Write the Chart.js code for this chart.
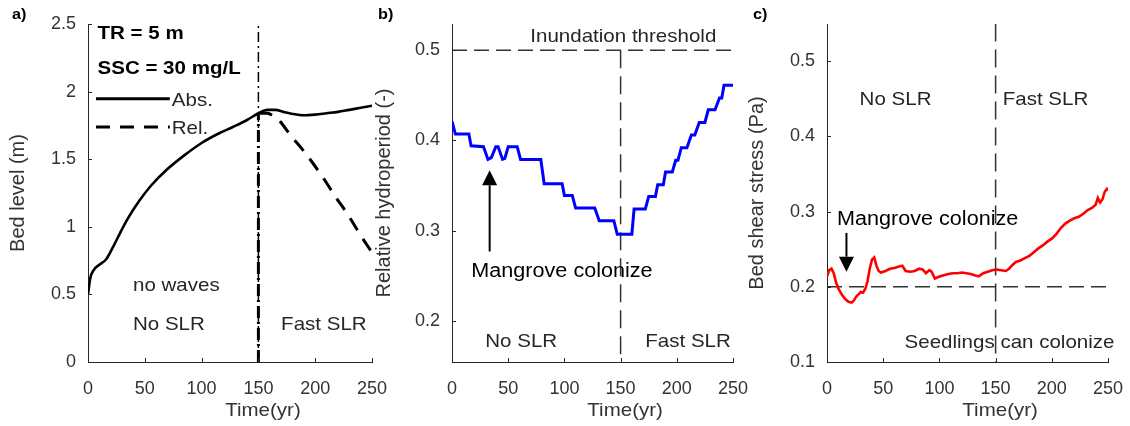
<!DOCTYPE html>
<html>
<head>
<meta charset="utf-8">
<script src="https://cdn.jsdelivr.net/npm/chart.js@4.4.1/dist/chart.umd.min.js"></script>
<style>
  html, body { margin: 0; padding: 0; background: #fff; }
  #wrap { position: relative; width: 1130px; height: 426px; overflow: hidden; }
  canvas { position: absolute; top: 0; }
</style>
</head>
<body>
<div id="wrap">
  <canvas id="bedLevel" width="392" height="426" style="left:0px"></canvas>
  <canvas id="hydroperiod" width="378" height="426" style="left:372px"></canvas>
  <canvas id="shearStress" width="388" height="426" style="left:742px"></canvas>
</div>
<script>
// ---------- axes ----------
const timeTicks = [0, 50, 100, 150, 200, 250];
const timeTickLabels = ["0", "50", "100", "150", "200", "250"];
const bedTicks = [0, 0.5, 1, 1.5, 2, 2.5];
const bedTickLabels = ["0", "0.5", "1", "1.5", "2", "2.5"];
const hydroTicks = [0.2, 0.3, 0.4, 0.5];
const hydroTickLabels = ["0.2", "0.3", "0.4", "0.5"];
const shearTicks = [0.1, 0.2, 0.3, 0.4, 0.5];
const shearTickLabels = ["0.1", "0.2", "0.3", "0.4", "0.5"];

// ---------- a) bed level ----------
const absTime  = [0, 2, 5, 10, 16, 22, 28, 35, 45, 55, 69, 85, 100, 115, 128, 140, 150, 158, 165, 172, 180, 190, 200, 210, 220, 230, 240, 250];
const absLevel = [0.50, 0.62, 0.68, 0.72, 0.76, 0.85, 0.95, 1.06, 1.19, 1.30, 1.42, 1.53, 1.62, 1.69, 1.74, 1.79, 1.84, 1.865, 1.865, 1.85, 1.835, 1.825, 1.83, 1.84, 1.85, 1.865, 1.88, 1.895];
const relTime  = [150, 158, 163, 169, 178, 188, 198, 208, 218, 228, 239, 250];
const relLevel = [1.84, 1.84, 1.82, 1.78, 1.68, 1.58, 1.47, 1.35, 1.22, 1.10, 0.95, 0.81];

// ---------- b) relative hydroperiod ----------
const hydroTime = [0, 3, 15, 17, 28, 32, 35, 39, 41, 45, 47, 50, 58, 61, 79, 82, 98, 100, 107, 110, 127, 131, 144, 147,
                   160, 162, 172, 175, 181, 183, 188, 190, 196, 199, 201, 204, 209, 213, 216, 220, 225, 228, 234, 238, 240, 242, 250];
const hydroValue = [0.421, 0.407, 0.407, 0.394, 0.393, 0.379, 0.381, 0.393, 0.393, 0.379, 0.380, 0.393, 0.393, 0.379, 0.379, 0.352, 0.352, 0.339, 0.339, 0.325, 0.325, 0.311, 0.311, 0.296,
                    0.296, 0.324, 0.324, 0.338, 0.338, 0.351, 0.351, 0.365, 0.365, 0.378, 0.378, 0.392, 0.392, 0.406, 0.406, 0.420, 0.420, 0.434, 0.434, 0.447, 0.447, 0.461, 0.461];

// ---------- c) bed shear stress ----------
const shearTime = [0, 2, 4, 6, 8, 10, 13, 16, 19, 22, 24, 26, 28, 30, 32, 34, 36, 38, 40, 42, 44, 46, 48, 52, 56, 60, 64, 67, 70, 74, 78, 82, 85, 88, 91, 93, 96, 99,
                   103, 108, 112, 116, 120, 124, 128, 132, 135, 139, 143, 147, 151, 155, 159, 162, 165, 168, 172, 176, 180, 184, 188, 192, 196, 200,
                   204, 208, 212, 216, 220, 224, 228, 232, 236, 239, 241, 243, 245, 247, 249, 250];
const shearValue = [0.214, 0.222, 0.224, 0.218, 0.206, 0.198, 0.190, 0.184, 0.180, 0.179, 0.182, 0.187, 0.190, 0.193, 0.192, 0.197, 0.207, 0.224, 0.236, 0.239, 0.228, 0.221, 0.219, 0.221, 0.224, 0.225, 0.227, 0.228, 0.221, 0.220, 0.221, 0.224, 0.223, 0.218, 0.222, 0.220, 0.211, 0.213,
                    0.215, 0.217, 0.218, 0.218, 0.219, 0.218, 0.217, 0.215, 0.214, 0.218, 0.220, 0.222, 0.223, 0.222, 0.221, 0.224, 0.229, 0.233, 0.235, 0.238, 0.241, 0.246, 0.251, 0.255, 0.260, 0.264,
                    0.270, 0.278, 0.284, 0.288, 0.291, 0.293, 0.297, 0.302, 0.305, 0.309, 0.318, 0.312, 0.316, 0.326, 0.330, 0.328];

const FONT = '"Liberation Sans", Arial, sans-serif';
const AXIS = '#262626';
const REF = '#333333';
const STRETCH = 1.08;   // annotation text is set slightly wide

function pts(xs, ys) { return xs.map((x, i) => ({ x, y: ys[i] })); }

function wideText(ctx, text, px, py, align) {
  ctx.save();
  ctx.translate(px, py);
  ctx.scale(STRETCH, 1);
  ctx.textAlign = align || 'left';
  ctx.fillText(text, 0, 0);
  ctx.restore();
}

// text, arrows, legend keys and inward tick marks, all placed through the scales
const notes = {
  id: 'notes',
  afterDatasetsDraw(chart, args, opts) {
    const { ctx, chartArea: ca, scales: { x, y } } = chart;
    ctx.save();

    ctx.strokeStyle = AXIS;
    ctx.lineWidth = 1;
    x.ticks.forEach(t => {
      const px = Math.round(x.getPixelForValue(t.value)) + 0.5;
      ctx.beginPath(); ctx.moveTo(px, ca.bottom); ctx.lineTo(px, ca.bottom - 4); ctx.stroke();
    });
    y.ticks.forEach(t => {
      const py = Math.round(y.getPixelForValue(t.value)) + 0.5;
      ctx.beginPath(); ctx.moveTo(ca.left, py); ctx.lineTo(ca.left + 4, py); ctx.stroke();
    });

    ctx.textBaseline = 'middle';
    ctx.fillStyle = '#000';
    ctx.font = 'bold 15px ' + FONT;
    wideText(ctx, opts.letter, opts.letterX, 15);

    // x axis title
    ctx.fillStyle = '#333';
    ctx.font = '19px ' + FONT;
    wideText(ctx, 'Time(yr)', x.getPixelForValue(154), ca.bottom + 49, 'center');

    (opts.keys || []).forEach(k => {
      const yy = y.getPixelForValue(k.y);
      ctx.strokeStyle = '#000';
      ctx.lineWidth = 3;
      ctx.setLineDash(k.dash || []);
      ctx.beginPath();
      ctx.moveTo(x.getPixelForValue(k.x0), yy);
      ctx.lineTo(x.getPixelForValue(k.x1), yy);
      ctx.stroke();
      ctx.setLineDash([]);
      ctx.fillStyle = '#262626';
      ctx.font = '19px ' + FONT;
      wideText(ctx, k.text, x.getPixelForValue(k.x1) + 2, yy + 2);
    });

    (opts.texts || []).forEach(t => {
      ctx.font = (t.bold ? 'bold ' : '') + (t.size || 19) + 'px ' + FONT;
      ctx.fillStyle = t.color || '#262626';
      wideText(ctx, t.text, x.getPixelForValue(t.x), y.getPixelForValue(t.y));
    });

    (opts.arrows || []).forEach(a => {
      const ax = x.getPixelForValue(a.x);
      const y0 = y.getPixelForValue(a.from);
      const y1 = y.getPixelForValue(a.to);
      const dir = y1 < y0 ? -1 : 1;
      const head = 15;
      ctx.strokeStyle = '#000';
      ctx.fillStyle = '#000';
      ctx.lineWidth = 2;
      ctx.beginPath(); ctx.moveTo(ax, y0); ctx.lineTo(ax, y1 - dir * head); ctx.stroke();
      ctx.beginPath();
      ctx.moveTo(ax, y1);
      ctx.lineTo(ax - 7.5, y1 - dir * head);
      ctx.lineTo(ax + 7.5, y1 - dir * head);
      ctx.closePath();
      ctx.fill();
    });

    ctx.restore();
  }
};

function xScale() {
  return {
    type: 'linear', min: 0, max: 250,
    afterBuildTicks: s => { s.ticks = timeTicks.map(v => ({ value: v })); },
    afterFit: s => { s.height = 64; s.paddingLeft = 0; s.paddingRight = 0; },
    grid: { display: false, drawTicks: false },
    border: { display: true, color: AXIS, width: 1 },
    ticks: { padding: 16, color: '#333', font: { size: 18, family: FONT }, callback: (v, i) => timeTickLabels[i] }
  };
}

function yScale(min, max, ticks, labels, width, title, titlePad) {
  return {
    type: 'linear', min, max,
    afterBuildTicks: s => { s.ticks = ticks.map(v => ({ value: v })); },
    afterFit: s => { s.width = width; s.paddingTop = 0; s.paddingBottom = 0; },
    grid: { display: false, drawTicks: false },
    border: { display: true, color: AXIS, width: 1 },
    ticks: { padding: 12, color: '#333', font: { size: 18, family: FONT }, callback: (v, i) => labels[i] },
    title: { display: true, text: title, color: '#333', font: { size: 20, family: FONT }, padding: { top: titlePad, bottom: 0 } }
  };
}

function baseOptions(x, y, rightPad, noteOpts) {
  return {
    responsive: false,
    animation: false,
    devicePixelRatio: 1,
    layout: { padding: { left: 0, right: rightPad, top: 24, bottom: 0 } },
    plugins: { legend: { display: false }, tooltip: { enabled: false }, notes: noteOpts },
    scales: { x, y },
    elements: { point: { radius: 0 } }
  };
}

// a) bed level
new Chart(document.getElementById('bedLevel'), {
  type: 'line',
  plugins: [notes],
  data: {
    datasets: [
      { data: pts([150, 150], [0, 2.5]), borderColor: '#000', borderWidth: 1.5, borderDash: [10, 4, 2, 4] },
      { data: pts([150, 150], [0, 1.84]), borderColor: '#000', borderWidth: 3, borderDash: [12, 4, 2, 4] },
      { data: pts(relTime, relLevel), borderColor: '#000', borderWidth: 3, borderDash: [14, 10], cubicInterpolationMode: 'monotone' },
      { data: pts(absTime, absLevel), borderColor: '#000', borderWidth: 2.6, cubicInterpolationMode: 'monotone' }
    ]
  },
  options: baseOptions(xScale(), yScale(0, 2.5, bedTicks, bedTickLabels, 88, 'Bed level (m)', 6), 20, {
    letter: 'a)', letterX: 12,
    keys: [
      { x0: 7, x1: 72, y: 1.947, text: 'Abs.' },
      { x0: 7, x1: 72, y: 1.738, text: 'Rel.', dash: [14, 10] }
    ],
    texts: [
      { text: 'TR = 5 m', x: 8.4, y: 2.426, bold: true, color: '#000' },
      { text: 'SSC = 30 mg/L', x: 8.4, y: 2.167, bold: true, color: '#000' },
      { text: 'no waves', x: 39.6, y: 0.562 },
      { text: 'No SLR', x: 39.6, y: 0.274 },
      { text: 'Fast SLR', x: 170, y: 0.274 }
    ]
  })
});

// b) relative hydroperiod
new Chart(document.getElementById('hydroperiod'), {
  type: 'line',
  plugins: [notes],
  data: {
    datasets: [
      { data: pts(hydroTime, hydroValue), borderColor: '#0000ff', borderWidth: 3 },
      { data: pts([0, 250], [0.5, 0.5]), borderColor: REF, borderWidth: 1.5, borderDash: [15, 7] },
      { data: pts([150, 150], [0.5, 0.1545]), borderColor: REF, borderWidth: 1.5, borderDash: [18, 8] }
    ]
  },
  options: baseOptions(xScale(), yScale(0.1545, 0.529, hydroTicks, hydroTickLabels, 80, 'Relative hydroperiod (-)', 0), 17, {
    letter: 'b)', letterX: 6,
    texts: [
      { text: 'Inundation threshold', x: 69.7, y: 0.515 },
      { text: 'Mangrove colonize', x: 17.2, y: 0.255, size: 20, color: '#000' },
      { text: 'No SLR', x: 29.6, y: 0.177 },
      { text: 'Fast SLR', x: 172, y: 0.177 }
    ],
    arrows: [{ x: 33.5, from: 0.277, to: 0.367 }]
  })
});

// c) bed shear stress
new Chart(document.getElementById('shearStress'), {
  type: 'line',
  plugins: [notes],
  data: {
    datasets: [
      { data: pts(shearTime, shearValue), borderColor: '#ff0000', borderWidth: 2.6 },
      { data: pts([0, 250], [0.2, 0.2]), borderColor: REF, borderWidth: 1.5, borderDash: [15, 7] },
      { data: pts([150, 150], [0.55, 0.1]), borderColor: REF, borderWidth: 1.5, borderDash: [18, 8] }
    ]
  },
  options: baseOptions(xScale(), yScale(0.1, 0.5493, shearTicks, shearTickLabels, 85, 'Bed shear stress (Pa)', 3), 22, {
    letter: 'c)', letterX: 11,
    texts: [
      { text: 'Mangrove colonize', x: 8.9, y: 0.289, size: 20, color: '#000' },
      { text: 'No SLR', x: 29, y: 0.449 },
      { text: 'Fast SLR', x: 156.3, y: 0.449 },
      { text: 'Seedlings can colonize', x: 69, y: 0.125 }
    ],
    arrows: [{ x: 17.3, from: 0.2716, to: 0.22 }]
  })
});
</script>
</body>
</html>
